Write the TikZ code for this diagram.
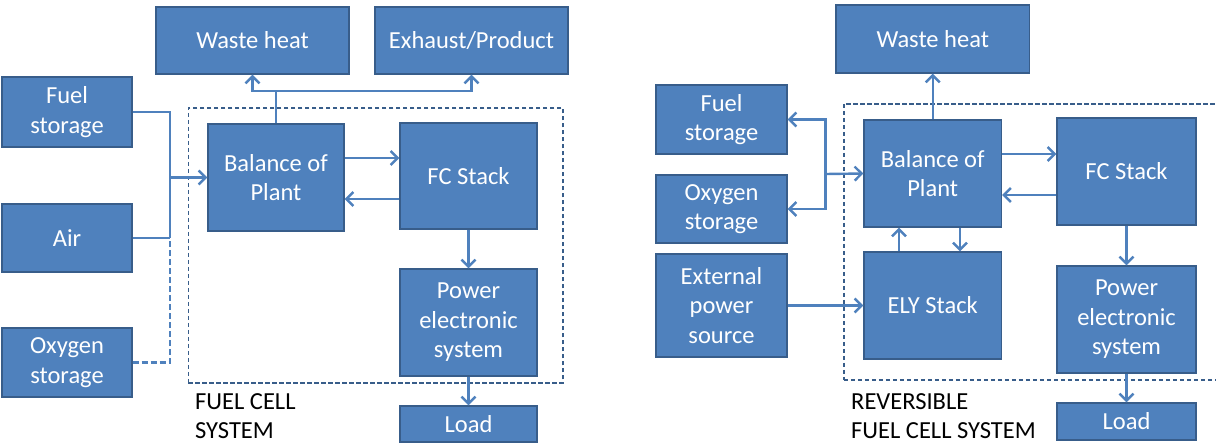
\documentclass[tikz,border=0pt]{standalone}
\usepackage{fontspec}
\setmainfont{Carlito}
\usetikzlibrary{arrows.meta}
\definecolor{boxfill}{HTML}{4F81BD}
\definecolor{boxline}{HTML}{385D8A}
\definecolor{conn}{HTML}{4F81BD}
\tikzset{
  blk/.style={draw=boxline, line width=1.3pt, fill=boxfill, text=white, align=center,
    inner sep=0pt, font=\fontsize{24.5}{29.5}\selectfont},
  wire/.style={draw=conn, line width=2.4pt},
  arr/.style={wire, -{Straight Barb[length=7pt,width=14pt]}},
  sysbox/.style={draw=boxline, line width=1.6pt, dash pattern=on 4.5pt off 2.5pt},
  olabel/.style={text=black, align=left, anchor=north west, inner sep=0pt,
    font=\fontsize{24.5}{29}\selectfont},
}
\begin{document}
\begin{tikzpicture}[x=1pt,y=-1pt]
\useasboundingbox (0,0) rectangle (1216,444);
% ---------- left diagram ----------
\node[sysbox, minimum width=374.5pt, minimum height=275pt, anchor=north west] (sys1) at (187.5,107) {};
\node[blk, minimum width=193pt, minimum height=67pt] (wh1) at (252.5,40.5) {Waste heat};
\node[blk, minimum width=193pt, minimum height=67pt] (ex1) at (471.5,40.5) {Exhaust/Product};
\node[blk, minimum width=130pt, minimum height=70pt] (fs1) at (67,112) {Fuel\\storage};
\node[blk, minimum width=130pt, minimum height=68pt] (air1) at (67,238) {Air};
\node[blk, minimum width=130pt, minimum height=69pt] (ox1) at (67,362.5) {Oxygen\\storage};
\node[blk, minimum width=136pt, minimum height=107pt] (bop1) at (276,177.5) {Balance of\\Plant};
\node[blk, minimum width=137pt, minimum height=106pt] (fc1) at (468.5,176) {FC Stack};
\node[blk, minimum width=137pt, minimum height=107pt] (pe1) at (468.5,322.5) {Power\\electronic\\system};
\node[blk, minimum width=137pt, minimum height=36pt] (load1) at (468.5,424) {Load};
\node[olabel] (lab1) at (195,393) {FUEL CELL\\SYSTEM};
\coordinate (j1) at (276,91);
\coordinate (ja) at (170,238);
\draw[wire] (bop1.north) -- (j1);
\draw[arr] (j1) -| (wh1.south);
\draw[arr] (j1) -| (ex1.south);
\draw[wire] (fs1.east) -| (ja);
\draw[wire] (air1.east) -- (ja);
\draw[wire, dash pattern=on 6pt off 3pt] (ox1.east) -| (ja);
\draw[arr] (bop1.west -| ja) -- (bop1.west);
\draw[arr] (bop1.east |- 0,158) -- (fc1.west |- 0,158);
\draw[arr] (fc1.west |- 0,199) -- (bop1.east |- 0,199);
\draw[arr] (fc1.south) -- (pe1.north);
\draw[arr] (pe1.south) -- (load1.north);
% ---------- right diagram ----------
\node[sysbox, minimum width=373pt, minimum height=276pt, anchor=north west] (sys2) at (843,103) {};
\node[blk, minimum width=193.5pt, minimum height=68pt] (wh2) at (932.75,39) {Waste heat};
\node[blk, minimum width=131pt, minimum height=69pt] (fs2) at (721.5,119.5) {Fuel\\storage};
\node[blk, minimum width=131pt, minimum height=68pt] (ox2) at (721.5,209) {Oxygen\\storage};
\node[blk, minimum width=131pt, minimum height=103pt] (ext2) at (721.5,305.5) {External\\power\\source};
\node[blk, minimum width=137.5pt, minimum height=107pt] (bop2) at (932.75,173.5) {Balance of\\Plant};
\node[blk, minimum width=137.5pt, minimum height=107pt] (ely2) at (932.75,305.5) {ELY Stack};
\node[blk, minimum width=139pt, minimum height=107pt] (fc2) at (1126.5,171.5) {FC Stack};
\node[blk, minimum width=139pt, minimum height=107pt] (pe2) at (1126.5,319.5) {Power\\electronic\\system};
\node[blk, minimum width=139pt, minimum height=37pt] (load2) at (1126.5,421.5) {Load};
\node[olabel] (lab2) at (851,393) {REVERSIBLE\\FUEL CELL SYSTEM};
\coordinate (jr) at (825.5,174);
\draw[arr] (bop2.north) -- (wh2.south);
\draw[arr] (jr) |- (fs2.east);
\draw[arr] (jr) |- (ox2.east);
\draw[arr] (jr) -- (bop2.west);
\draw[arr] (ext2.east) -- (ely2.west);
\draw[arr] (bop2.east |- 0,154) -- (fc2.west |- 0,154);
\draw[arr] (fc2.west |- 0,195) -- (bop2.east |- 0,195);
\draw[arr] (ely2.north -| 899,0) -- (bop2.south -| 899,0);
\draw[arr] (bop2.south -| 960,0) -- (ely2.north -| 960,0);
\draw[arr] (fc2.south) -- (pe2.north);
\draw[arr] (pe2.south) -- (load2.north);
\end{tikzpicture}
\end{document}
